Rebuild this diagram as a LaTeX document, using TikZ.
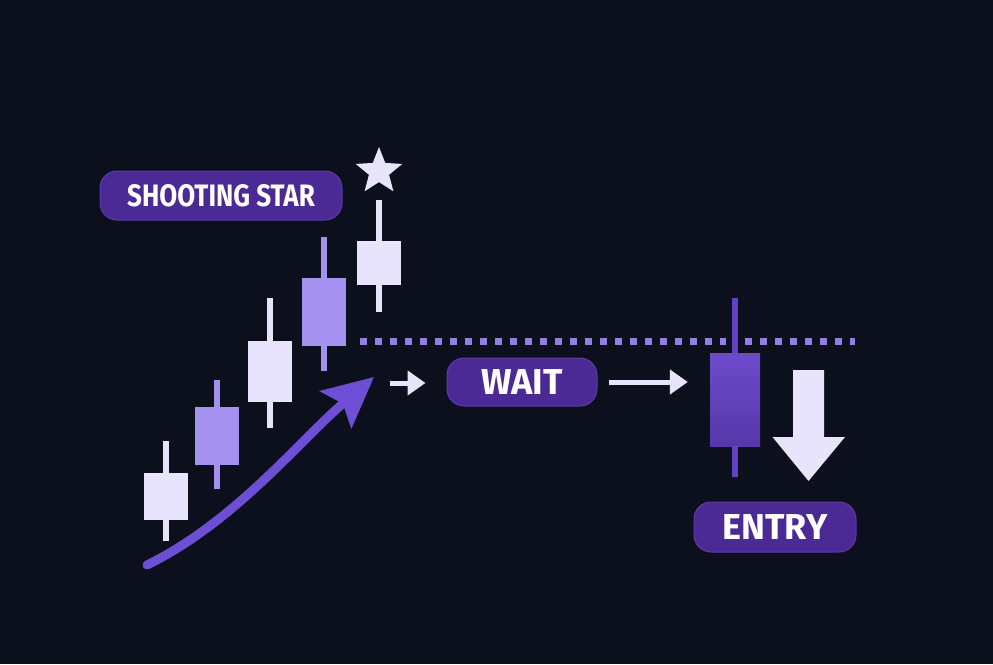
\documentclass[tikz,border=0pt]{standalone}
\usepackage{fontspec}
\setmainfont{Fira Sans}
\usepackage{tikz}
\usetikzlibrary{shapes.geometric, arrows.meta, positioning, calc}
\definecolor{bgdark}{RGB}{11,16,28}
\definecolor{candlelt}{RGB}{232,228,252}
\definecolor{candlemd}{RGB}{165,145,240}
\definecolor{candledp}{RGB}{100,66,200}
\definecolor{tagfill}{RGB}{76,42,150}
\definecolor{tagedge}{RGB}{92,58,172}
\definecolor{dotline}{RGB}{150,125,225}
\definecolor{trendarr}{RGB}{110,78,212}
\tikzset{
  tag/.style={
    rectangle, rounded corners=17pt, fill=tagfill, draw=tagedge,
    line width=1pt, text=white, inner sep=0pt,
    font=\fontsize{36}{40}\selectfont\bfseries
  },
  body/.style={rectangle, minimum width=44pt, inner sep=0pt, draw=none},
  wick/.style={line width=6pt},
  arr/.style={-{Triangle[length=18pt, width=24pt]}, line width=5pt, candlelt},
  level/.style={dotline, line width=7pt, dash pattern=on 7pt off 8pt}
}

\begin{document}
\begin{tikzpicture}[x=1pt, y=-1pt]
  \fill[bgdark] (0,0) rectangle (993,664);
  \useasboundingbox (0,0) rectangle (993,664);

  % rising candles
  \foreach \n/\x/\y/\h/\up/\dn/\col in {
      1/166/496.5/47/32/21/candlelt,
      2/216.5/436/58/27/24/candlemd,
      3/269.5/371.5/61/43/26/candlelt,
      4/323.5/312/68/41/25/candlemd,
      5/379/263/44/41/27/candlelt}{
    \node[body, fill=\col, minimum height=\h pt] (c\n) at (\x,\y) {};
    \draw[wick, \col] (c\n.north) -- ++(0,-\up);
    \draw[wick, \col] (c\n.south) -- ++(0,\dn);
  }

  % star above the last candle
  \coordinate (star) at (379,171.5);
  \fill[candlelt] ($(star)+(-90:24.5)$)
    \foreach \i in {1,...,9}{
      -- ($(star)+(-90+36*\i:{ifthenelse(mod(\i,2)==1,10.6,24.5)})$)
    } -- cycle;
  \node[tag, minimum width=242pt, minimum height=49pt,
        font=\fontsize{31}{36}\selectfont\bfseries] (sstag)
        at (221,195.5) {\scalebox{0.84}[1]{SHOOTING STAR}};

  % resistance level
  \draw[level] (360,341) -- (726,341);
  \draw[level] (745,341) -- (855,341);

  % trend arrow
  \coordinate (trend0) at (147,565);
  \coordinate (trend1) at (374,377);
  \draw[trendarr, line width=9pt, line cap=round,
        -{Stealth[length=50pt, width=48pt, inset=9pt]}]
        (trend0) .. controls (235,522) and (300,440) .. (trend1);

  % wait and entry
  \node[tag, minimum width=150pt, minimum height=48pt] (wait) at (522,382) {WAIT};
  \node[body, minimum width=50pt, minimum height=93pt,
        top color=candledp!95!white, bottom color=candledp!85!black] (bear)
        at (735,399.5) {};
  \draw[wick, candledp] (bear.north) -- ++(0,-55);
  \draw[wick, candledp] (bear.south) -- ++(0,31);
  \node[tag, minimum width=162pt, minimum height=50pt] (entry) at (775,527) {ENTRY};

  \coordinate (a1) at (390,383);
  \draw[arr, shorten >=21pt] (a1) -- (wait.west |- a1);
  \draw[arr, shorten <=11pt, shorten >=22pt] (wait.east) -- (wait.east -| bear.west);

  % down arrow
  \coordinate (dn) at (808.5,370);
  \fill[candlelt] ($(dn)+(-15.5,0)$) -- ++(31,0) -- ++(0,67) -- ++(21,0)
        -- ($(dn)+(0,111)$) -- ($(dn)+(-36,67)$) -- ++(20.5,0) -- cycle;
\end{tikzpicture}
\end{document}
